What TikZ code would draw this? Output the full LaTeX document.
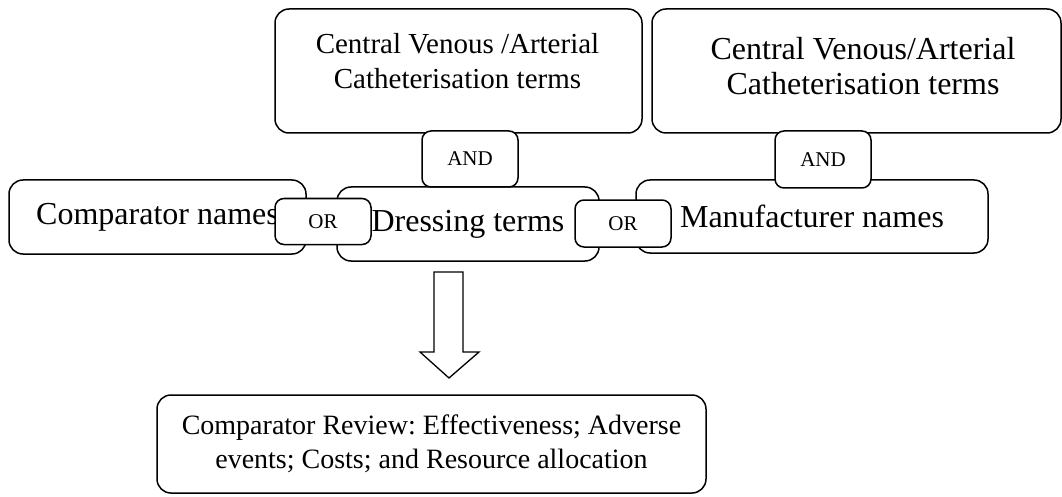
\documentclass[tikz,border=0pt]{standalone}
\usepackage{fontspec}
\setmainfont{Liberation Serif}
\frenchspacing
\begin{document}
\begin{tikzpicture}[x=1pt,y=-1pt,
  box/.style={draw=black, line width=1.5pt, rounded corners=14pt, fill=white, inner sep=0pt, align=center},
  opbox/.style={box, rounded corners=9pt, minimum width=96pt, font=\fontsize{21}{24}\selectfont},
  bigtext/.style={font=\fontsize{32}{36}\selectfont},
  flow/.style={draw=black, line width=1.3pt, fill=white, line join=miter}]
\useasboundingbox (0,0) rectangle (1062,497);
% main term boxes
\node[box, bigtext, minimum width=297pt, minimum height=74pt] (comp) at (157.5,217) {Comparator names};
\node[box, bigtext, minimum width=262pt, minimum height=74pt] (dress) at (468,224) {Dressing terms};
\node[box, bigtext, minimum width=352pt, minimum height=73pt] (manu) at (812,216.5) {Manufacturer names};
\node[box, minimum width=367pt, minimum height=124pt] (cva1) at (458.5,71) {};
\node[inner sep=0pt, align=center, font=\fontsize{29}{35}\selectfont] (cva1t) at (457.5,61) {Central Venous /Arterial\\Catheterisation terms};
\node[box, minimum width=409pt, minimum height=124pt] (cva2) at (856.5,71) {};
\node[inner sep=0pt, align=center, font=\fontsize{32}{35}\selectfont] (cva2t) at (863,66) {Central Venous/Arterial\\Catheterisation terms};
% operator boxes
\node[opbox, minimum height=56pt] (and1) at (470,159) {AND};
\node[opbox, minimum height=57pt] (and2) at (823,159.5) {AND};
\node[opbox, minimum height=46pt] (or1) at (323,221.5) {OR};
\node[opbox, minimum height=47pt] (or2) at (623,223.5) {OR};
% result box
\node[box, minimum width=549pt, minimum height=98pt, font=\fontsize{28}{34}\selectfont] (review) at (431.5,444) {Comparator Review: Effectiveness; Adverse\\events; Costs; and Resource allocation};
% block arrow
\path[flow] (434,272) -- (463,272) -- (463,352) -- (479,352) -- (449,378) -- (420,352) -- (434,352) -- cycle;
\end{tikzpicture}
\end{document}
